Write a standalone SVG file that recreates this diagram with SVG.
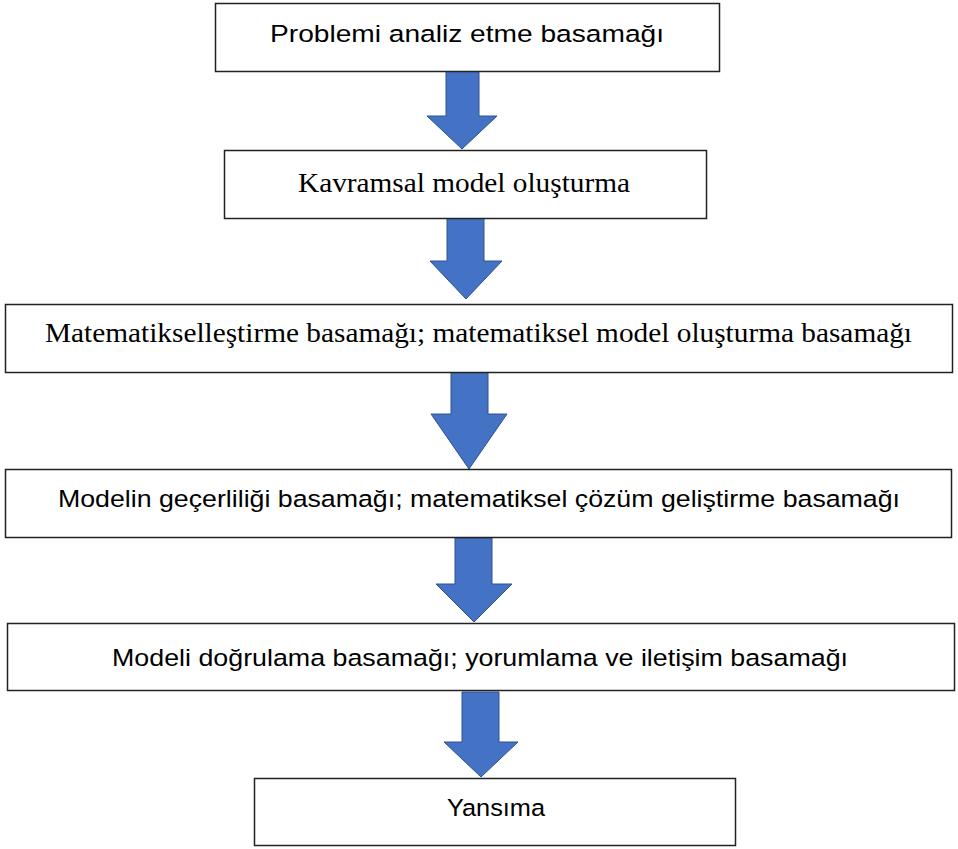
<svg xmlns="http://www.w3.org/2000/svg" width="958" height="849" viewBox="0 0 958 849">
<style>
.box{fill:#fff;stroke:#222;stroke-width:1.5}
.arr{fill:#4472C4;stroke:#2F528F;stroke-width:1}
.sans{font-family:"Liberation Sans","Open Sans",sans-serif;font-size:24.5px;fill:#000}
.serif{font-family:"Liberation Serif","DejaVu Serif",serif;font-size:28px;fill:#000}
</style>
<rect width="958" height="849" fill="#fff"/>
<g id="connectors">
<polygon class="arr" points="446,71 479,71 479,116 497,116 462,149 427,116 446,116"/>
<polygon class="arr" points="447,218 484,218 484,261 502,261 466,299 430,261 447,261"/>
<polygon class="arr" points="451,372 488,372 488,414 507,414 469,469 431,414 451,414"/>
<polygon class="arr" points="455,538 492,538 492,584 512,584 474,622 436,584 455,584"/>
<polygon class="arr" points="462,692 499,692 499,742 518,742 481,777 444,742 462,742"/>
</g>
<g id="n1">
<rect class="box" x="215.5" y="3.5" width="504" height="68"/>
<text class="sans" x="270" y="42" textLength="394" lengthAdjust="spacingAndGlyphs">Problemi analiz etme basamağı</text>
</g>
<g id="n2">
<rect class="box" x="224.5" y="150.5" width="482" height="68"/>
<text class="serif" x="298" y="192" textLength="332" lengthAdjust="spacingAndGlyphs">Kavramsal model oluşturma</text>
</g>
<g id="n3">
<rect class="box" x="5.5" y="304.5" width="947" height="68"/>
<text class="serif" x="45" y="342" textLength="867" lengthAdjust="spacingAndGlyphs">Matematikselleştirme basamağı; matematiksel model oluşturma basamağı</text>
</g>
<g id="n4">
<rect class="box" x="5.5" y="469.5" width="946" height="68"/>
<text class="sans" x="58" y="507" textLength="842" lengthAdjust="spacingAndGlyphs">Modelin geçerliliği basamağı; matematiksel çözüm geliştirme basamağı</text>
</g>
<g id="n5">
<rect class="box" x="7.5" y="623.5" width="947" height="67"/>
<text class="sans" x="112" y="666" textLength="736" lengthAdjust="spacingAndGlyphs">Modeli doğrulama basamağı; yorumlama ve iletişim basamağı</text>
</g>
<g id="n6">
<rect class="box" x="254.5" y="778.5" width="481" height="67"/>
<text class="sans" x="447" y="816" textLength="98" lengthAdjust="spacingAndGlyphs">Yansıma</text>
</g>
</svg>
